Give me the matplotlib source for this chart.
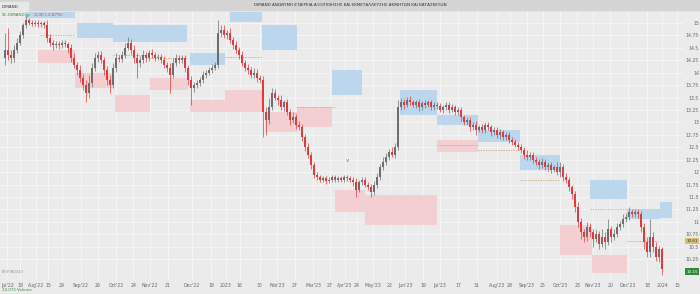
import matplotlib.pyplot as plt

# daily candles (one every 3 px in the reference), open = previous close
closes = [
    14.45, 14.35, 14.30, 14.45, 14.60, 14.75, 14.95, 15.05, 15.00, 14.98,
    15.00, 14.97, 14.99, 14.95, 14.70, 14.60, 14.55, 14.58, 14.55, 14.60,
    14.57, 14.50, 14.30, 14.15, 14.05, 13.90, 13.75, 13.60, 13.80, 14.10,
    14.30, 14.35, 14.25, 14.05, 13.85, 13.75, 14.10, 14.30, 14.28, 14.35,
    14.50, 14.60, 14.45, 14.30, 14.20, 14.25, 14.35, 14.30, 14.40, 14.35,
    14.30, 14.32, 14.25, 14.15, 14.10, 13.95, 14.20, 14.30, 14.25, 14.30,
    14.10, 13.85, 13.70, 13.75, 13.80, 13.85, 13.95, 14.00, 14.05, 14.10,
    14.15, 14.80, 14.85, 14.75, 14.80, 14.65, 14.55, 14.45, 14.35, 14.20,
    14.10, 14.05, 13.95, 14.00, 13.90, 13.85, 13.20, 13.05, 13.30, 13.60,
    13.50, 13.45, 13.30, 13.40, 13.20, 13.05, 13.10, 12.95, 12.90, 12.70,
    12.50, 12.35, 12.15, 11.95, 11.90, 11.85, 11.88, 11.82, 11.85, 11.90,
    11.85, 11.88, 11.85, 11.90, 11.88, 11.85, 11.80, 11.65, 11.80, 11.85,
    11.75, 11.70, 11.60, 11.75, 11.90, 12.10, 12.20, 12.30, 12.40, 12.35,
    12.50, 13.30, 13.40, 13.35, 13.45, 13.40, 13.35, 13.40, 13.30, 13.38,
    13.35, 13.40, 13.30, 13.35, 13.32, 13.25, 13.30, 13.35, 13.25, 13.30,
    13.20, 13.25, 13.10, 13.00, 13.05, 12.90, 12.95, 12.85, 12.90, 12.85,
    12.95, 12.90, 12.80, 12.85, 12.75, 12.80, 12.70, 12.75, 12.65, 12.60,
    12.55, 12.50, 12.45, 12.35, 12.30, 12.35, 12.25, 12.20, 12.15, 12.20,
    12.10, 12.15, 12.05, 12.10, 12.00, 12.10, 11.90, 11.85, 11.70, 11.55,
    11.30, 11.00, 10.80, 10.70, 10.90, 10.80, 10.65, 10.75, 10.55, 10.70,
    10.60, 10.85, 10.70, 10.75, 10.90, 10.95, 11.05, 11.10, 11.20, 11.15,
    11.20, 11.15, 10.90, 10.60, 10.40, 10.70, 10.50, 10.30, 10.45, 10.05,
]
first_open = 14.30
# wick lengths above / below the body
wick_up = [
    .35, .45, .10, .10, .10, .08, .05, .08, .05, .05,
    .05, .05, .04, .05, .10, .08, .06, .05, .06, .05,
    .05, .05, .08, .10, .06, .10, .08, .10, .15, .10,
    .10, .08, .08, .06, .08, .10, .10, .10, .06, .08,
    .10, .12, .08, .10, .10, .08, .10, .06, .05, .08,
    .06, .05, .06, .08, .06, .10, .10, .08, .06, .05,
    .05, .06, .08, .06, .05, .06, .08, .06, .06, .08,
    .06, .25, .10, .10, .05, .10, .06, .08, .06, .08,
    .06, .08, .06, .10, .08, .06, .08, .10, .20, .10,
    .08, .06, .10, .06, .08, .06, .10, .06, .08, .06,
    .06, .08, .06, .06, .05, .05, .05, .05, .06, .05,
    .05, .04, .05, .04, .05, .05, .06, .08, .05, .05,
    .06, .05, .06, .08, .08, .06, .10, .08, .06, .10,
    .08, .15, .10, .08, .06, .08, .05, .06, .08, .05,
    .06, .05, .06, .05, .05, .06, .05, .06, .05, .06,
    .05, .06, .06, .05, .06, .05, .06, .08, .05, .06,
    .05, .06, .05, .06, .05, .06, .05, .06, .05, .05,
    .06, .05, .06, .05, .10, .05, .06, .05, .06, .08,
    .06, .05, .06, .05, .10, .10, .06, .08, .06, .05,
    .06, .10, .08, .06, .10, .08, .06, .10, .06, .15,
    .10, .20, .06, .10, .08, .06, .10, .08, .10, .06,
    .05, .05, .06, .08, .10, .35, .10, .10, .06, .05,
]
wick_dn = [
    .15, .10, .10, .08, .06, .05, .05, .05, .05, .04,
    .04, .05, .05, .05, .08, .06, .10, .06, .08, .06,
    .06, .10, .08, .06, .10, .08, .10, .20, .10, .08,
    .06, .08, .06, .10, .10, .15, .06, .08, .06, .06,
    .06, .05, .08, .10, .30, .08, .06, .08, .06, .05,
    .06, .05, .06, .06, .08, .35, .06, .06, .05, .06,
    .08, .10, .35, .08, .06, .06, .05, .06, .05, .06,
    .05, .06, .08, .06, .08, .06, .08, .06, .08, .06,
    .06, .08, .06, .06, .08, .06, .50, .30, .08, .06,
    .06, .10, .06, .08, .06, .10, .06, .08, .06, .08,
    .08, .06, .08, .06, .05, .05, .05, .05, .04, .05,
    .05, .04, .05, .05, .05, .05, .08, .15, .05, .05,
    .05, .06, .10, .06, .06, .06, .05, .06, .06, .05,
    .06, .06, .05, .08, .05, .06, .05, .06, .08, .05,
    .06, .05, .06, .05, .06, .05, .06, .05, .06, .05,
    .06, .05, .08, .06, .05, .08, .06, .10, .05, .06,
    .06, .05, .08, .05, .06, .08, .06, .05, .06, .06,
    .05, .06, .06, .08, .06, .05, .06, .06, .08, .06,
    .06, .08, .06, .05, .06, .10, .08, .06, .08, .10,
    .10, .10, .15, .10, .08, .10, .15, .06, .10, .06,
    .15, .06, .10, .06, .05, .06, .06, .05, .06, .06,
    .06, .08, .10, .15, .10, .10, .10, .08, .10, .12,
]

# supply (blue) and demand (pink) zones: start, end (candle index), low, high
supply_zones = [
    (6.7, 23.3, 15.10, 15.22), (24, 36, 14.70, 15.00), (36, 60.7, 14.62, 14.96),
    (61.7, 73.3, 14.15, 14.40), (75, 85.7, 15.02, 15.22), (85.7, 97.3, 14.46, 14.96),
    (109, 119, 13.55, 14.05), (131.7, 144, 13.15, 13.65), (144, 157.7, 12.95, 13.15),
    (157.7, 171.7, 12.60, 12.85), (171.7, 185, 12.05, 12.35), (195, 207.3, 11.45, 11.85),
    (207.3, 218.3, 11.05, 11.25), (218.3, 222.3, 11.08, 11.40),
]
demand_zones = [
    (11, 23.3, 14.20, 14.46), (23.3, 36, 13.70, 14.00), (36.7, 48.3, 13.20, 13.55),
    (48.3, 61, 13.65, 13.90), (61.7, 73.3, 13.20, 13.45), (73.3, 85.7, 13.20, 13.65),
    (86.7, 97.3, 12.80, 13.20), (97.3, 109, 12.90, 13.30), (110, 120, 11.20, 11.64),
    (120, 144, 10.94, 11.54), (144, 157.7, 12.40, 12.65), (185, 195.7, 10.33, 10.94),
    (195.7, 207.3, 9.97, 10.33),
]
# dotted levels: start, end, price
levels = [
    (11.7, 23.3, 14.76), (36, 47.7, 14.36), (48.3, 60.7, 14.30), (73.3, 85.7, 14.32),
    (97.3, 110, 13.30), (144, 157.7, 12.55), (157.7, 171.7, 12.45), (171.7, 185, 11.85),
    (195, 207.3, 11.25), (207.3, 218.3, 10.61),
]

tick_pos = [0.8, 5, 10.3, 14.3, 19, 25.3, 31, 37, 42.7, 48.3, 54.3, 62.3, 68.7, 73.6,
            78.3, 85, 90.7, 96.7, 102.7, 108.3, 113.3, 117.3, 122.7, 128.3, 133.3,
            139.3, 145, 151, 157.3, 164, 168.3, 174, 179.3, 185, 190.7, 196, 201.7,
            207.7, 214, 219, 224]
tick_lab = ["Jul'22", "18", "Aug'22", "15", "29", "Sep'22", "26", "Oct'22", "24",
            "Nov'22", "21", "Dec'22", "19", "2023", "16", "30", "Feb'23", "27",
            "Mar'23", "27", "Apr'23", "24", "May'23", "22", "Jun'23", "19", "Jul'23",
            "17", "31", "Aug'23", "28", "Sep'23", "25", "Oct'23", "23", "Nov'23",
            "20", "Dec'23", "18", "2024", "15"]
price_ticks = [10.25, 10.5, 10.75, 11, 11.25, 11.5, 11.75, 12, 12.25, 12.5, 12.75,
               13, 13.25, 13.5, 13.75, 14, 14.25, 14.5, 14.75, 15]
price_lab = ["10.25", "10.5", "10.75", "11", "11.25", "11.5", "11.75", "12", "12.25",
             "12.5", "12.75", "13", "13.25", "13.5", "13.75", "14", "14.25", "14.5",
             "14.75", "15"]

bg = '#ebebeb'
fig = plt.figure(figsize=(7, 2.94), dpi=100, facecolor=bg)
ax = fig.add_axes([0, 14 / 294, 683 / 700, 270 / 294], facecolor=bg)
ax.set_xlim(-1.67, 226)
ax.set_ylim(9.83, 15.26)

ax.set_xticks(tick_pos)
ax.set_xticklabels(tick_lab)
ax.set_yticks(price_ticks)
ax.set_yticklabels(price_lab)
ax.grid(True, color='#f6f6f6', linewidth=0.6)
ax.set_axisbelow(True)
for s in ax.spines.values():
    s.set_visible(False)
ax.tick_params(axis='x', length=0, labelsize=3.3, colors='#666666', pad=2)
ax.tick_params(axis='y', length=0, labelsize=3.3, colors='#666666', pad=11.5,
               labelleft=False, labelright=True)
for lab in ax.get_yticklabels():
    lab.set_horizontalalignment('right')

for x0, x1, lo, hi in supply_zones:
    ax.fill_between([x0, x1], lo, hi, color='#bcd6ee', linewidth=0, zorder=1)
for x0, x1, lo, hi in demand_zones:
    ax.fill_between([x0, x1], lo, hi, color='#f3cfd1', linewidth=0, zorder=1)
for x0, x1, p in levels:
    ax.plot([x0, x1], [p, p], color='#c9a46a', linewidth=0.6, linestyle=(0, (1.5, 1.5)),
            zorder=2)

opens = [first_open] + closes[:-1]
for i, (o, c) in enumerate(zip(opens, closes)):
    col = '#6e6e6e' if c >= o else '#e0393e'
    top, bot = max(o, c), min(o, c)
    ax.vlines(i, bot - wick_dn[i], top + wick_up[i], color=col, linewidth=0.5, zorder=3)
    ax.bar(i, max(top - bot, 0.012), bottom=bot, width=0.7, color=col, linewidth=0,
           zorder=4)

ax.text(114, 12.24, 'v', color='#8a5fb0', fontsize=4, ha='center', va='center')

# top bar
fig.patches.append(plt.Rectangle((0, 1 - 10 / 294), 1, 10 / 294, transform=fig.transFigure,
                                 color='#d4d4d4', zorder=5))
fig.patches.append(plt.Rectangle((0, 1 - 11 / 294), 28 / 700, 9 / 294,
                                 transform=fig.transFigure, color='#e8e8e8', zorder=6))
fig.text(2 / 700, 1 - 6.5 / 294, 'DIMAND', fontsize=3, color='#333333', va='center',
         zorder=7)
fig.text(0.5, 1 - 5 / 294,
         'DIMAND ΑΝΩΝΥΜΗ ΕΤΑΙΡΕΙΑ ΑΞΙΟΠΟΙΗΣΗΣ ΚΑΙ ΕΚΜΕΤΑΛΛΕΥΣΗΣ ΑΚΙΝΗΤΩΝ ΚΑΙ ΚΑΤΑΣΚΕΥΩΝ',
         fontsize=3, color='#333333', ha='center', va='center', zorder=7)
fig.text(2 / 700, 1 - 15 / 294, 'SC:DIMAND.gr', fontsize=3, color='#2e8b3a', va='center')
fig.text(33 / 700, 1 - 15 / 294, '-0.30 (-2.87%)', fontsize=3, color='#e0393e',
         va='center')

# last price labels on the right axis
ax.annotate('10.61', xy=(698 / 700, 10.61), xycoords=('figure fraction', 'data'),
            fontsize=3, color='#333333', ha='right', va='center',
            bbox=dict(boxstyle='square,pad=0.3', fc='#d8bd72', ec='none'))
ax.annotate('10.15', xy=(698 / 700, 10.0), xycoords=('figure fraction', 'data'),
            fontsize=3, color='white', ha='right', va='center',
            bbox=dict(boxstyle='square,pad=0.3', fc='#2e8b3a', ec='none'))

fig.text(2 / 700, 22 / 294, 'EF(FIBOXD)', fontsize=2.8, color='#999999', va='center')
fig.text(2 / 700, 4 / 294, '34.073 Volume', fontsize=2.8, color='#2e8b3a', va='center')

fig.savefig('out.png', dpi=100, facecolor=bg)
